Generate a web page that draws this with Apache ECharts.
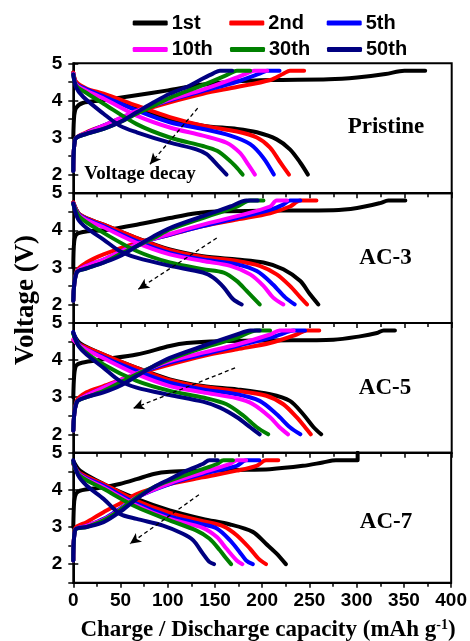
<!DOCTYPE html>
<html><head><meta charset="utf-8">
<script src="https://cdn.jsdelivr.net/npm/echarts@6/dist/echarts.min.js"></script>
<style>html,body{margin:0;padding:0;background:#fff}#c{width:470px;height:641px}</style>
</head><body><div id="c"></div>
<script>
const cycles = ['1st','2nd','5th','10th','30th','50th'];
const colors = ['#000000','#ff0000','#0000ff','#ff00ff','#008000','#000080'];
const panels = ['Pristine','AC-3','AC-5','AC-7'];
const yTickLabels = [2,3,4,5];
const xMin = 0, xMax = 400, xStep = 50;
const yMin = 1.5, yMax = 5, yStep = 0.5;

// Pristine: charge / discharge curves, cycles 1st,2nd,5th,10th,30th,50th  [capacity, voltage]
const pristineCharge = [
 [[0,3.0],[1,3.6],[3,3.8],[10,3.93],[30,4.0],[65,4.13],[100,4.27],[135,4.42],[170,4.51],[210,4.55],[270,4.57],[300,4.62],[330,4.71],[350,4.8],[372,4.8]],
 [[0,2.1],[2,2.95],[14,3.14],[32,3.32],[49,3.5],[67,3.68],[102,3.95],[137,4.18],[173,4.36],[208,4.55],[222,4.72],[229,4.8],[244,4.8]],
 [[0,2.1],[2,2.95],[14,3.12],[32,3.32],[67,3.7],[102,4.0],[137,4.25],[173,4.5],[197,4.72],[205,4.8],[218,4.8]],
 [[0,2.1],[2,2.95],[14,3.12],[32,3.32],[67,3.72],[102,4.02],[137,4.29],[166,4.55],[183,4.72],[191,4.8],[205,4.8]],
 [[0,2.1],[2,2.95],[14,3.1],[32,3.23],[49,3.41],[67,3.64],[85,3.86],[102,4.07],[137,4.41],[162,4.68],[173,4.8],[187,4.8]],
 [[0,2.1],[2,2.95],[14,3.1],[32,3.23],[49,3.41],[67,3.68],[85,3.95],[102,4.18],[120,4.36],[137,4.59],[148,4.73],[155,4.8],[168,4.8]]
];
const pristineDischarge = [
 [[0,4.75],[3.5,4.45],[14,4.29],[32,4.14],[67,3.82],[102,3.5],[137,3.32],[173,3.23],[194,3.14],[215,2.95],[229,2.68],[240,2.32],[248,2.0]],
 [[0,4.75],[3,4.5],[14,4.32],[32,4.18],[67,3.86],[102,3.55],[137,3.32],[173,3.16],[194,3.0],[208,2.73],[218,2.36],[228,2.0]],
 [[0,4.72],[3,4.45],[14,4.3],[32,4.11],[67,3.73],[102,3.41],[137,3.23],[166,3.05],[187,2.82],[201,2.45],[212,2.0]],
 [[0,4.72],[3,4.43],[14,4.26],[32,4.05],[67,3.59],[102,3.27],[137,3.05],[162,2.86],[176,2.59],[185,2.27],[192,2.0]],
 [[0,4.7],[3,4.4],[14,4.2],[32,3.91],[67,3.36],[102,3.0],[137,2.77],[152,2.64],[166,2.36],[173,2.18],[179,2.0]],
 [[0,4.7],[3,4.35],[10.6,4.09],[32,3.64],[49,3.32],[67,3.14],[102,2.86],[130,2.68],[141,2.55],[152,2.27],[162,2.0]]
];
// AC-3
const ac3Charge = [
 [[0,3.0],[1,3.7],[4,3.9],[15,3.97],[32,4.0],[67,4.15],[102,4.33],[130,4.46],[155,4.51],[208,4.53],[275,4.54],[300,4.6],[324,4.73],[333,4.8],[351,4.8]],
 [[0,2.1],[3.5,2.9],[14,3.13],[32,3.35],[67,3.66],[102,3.88],[137,4.11],[173,4.29],[208,4.46],[229,4.64],[240,4.8],[257,4.8]],
 [[0,2.1],[3.5,2.86],[14,3.04],[32,3.21],[67,3.62],[102,3.88],[137,4.11],[173,4.33],[208,4.55],[222,4.69],[229,4.8],[240,4.8]],
 [[0,2.1],[3.5,2.86],[14,3.04],[32,3.21],[67,3.62],[102,3.9],[137,4.15],[173,4.38],[208,4.64],[215,4.8],[226,4.8]],
 [[0,2.1],[3.5,2.86],[14,2.97],[32,3.13],[49,3.35],[67,3.57],[85,3.79],[102,4.02],[137,4.33],[173,4.64],[187,4.8],[201,4.8]],
 [[0,2.1],[3.5,2.86],[14,2.97],[32,3.13],[49,3.3],[67,3.57],[85,3.84],[102,4.06],[137,4.38],[166,4.64],[183,4.8],[195,4.8]]
];
const ac3Discharge = [
 [[0,4.75],[7,4.42],[32,4.15],[67,3.79],[102,3.48],[137,3.3],[173,3.21],[201,3.13],[222,2.95],[240,2.63],[250,2.28],[259,2.0]],
 [[0,4.75],[7,4.42],[32,4.15],[67,3.79],[102,3.46],[137,3.28],[173,3.17],[197,3.04],[215,2.81],[229,2.5],[240,2.19],[247,2.0]],
 [[0,4.72],[7,4.4],[32,4.11],[67,3.71],[102,3.39],[137,3.21],[173,3.08],[194,2.9],[211,2.54],[224,2.19],[234,2.0]],
 [[0,4.72],[7,4.38],[32,4.08],[67,3.66],[102,3.35],[137,3.17],[166,3.04],[187,2.81],[201,2.5],[211,2.19],[222,2.0]],
 [[0,4.7],[7,4.35],[32,3.93],[67,3.44],[102,3.13],[137,2.95],[159,2.86],[173,2.63],[183,2.37],[197,2.0]],
 [[0,4.72],[5,4.3],[14,4.06],[32,3.75],[49,3.44],[67,3.26],[102,3.04],[137,2.86],[148,2.72],[159,2.46],[169,2.14],[178,2.0]]
];
// AC-5
const ac5Charge = [
 [[0,3.0],[1,3.6],[3,3.85],[9,3.93],[32,4.02],[67,4.15],[102,4.38],[120,4.46],[155,4.51],[208,4.53],[275,4.55],[303,4.64],[321,4.73],[328,4.8],[340,4.8]],
 [[0,2.1],[3.5,2.9],[14,3.13],[32,3.3],[67,3.62],[102,3.88],[137,4.11],[173,4.29],[208,4.46],[236,4.69],[247,4.8],[260,4.8]],
 [[0,2.1],[3.5,2.86],[14,3.05],[32,3.26],[67,3.62],[102,3.93],[137,4.15],[173,4.38],[208,4.6],[229,4.78],[233,4.8],[245,4.8]],
 [[0,2.1],[3.5,2.86],[14,3.05],[32,3.26],[67,3.64],[102,3.97],[137,4.2],[173,4.42],[208,4.69],[218,4.8],[233,4.8]],
 [[0,2.1],[3.5,2.86],[14,3.0],[32,3.17],[67,3.62],[102,4.02],[137,4.33],[173,4.6],[194,4.8],[208,4.8]],
 [[0,2.1],[3.5,2.86],[14,3.0],[32,3.13],[49,3.3],[67,3.57],[85,3.84],[102,4.06],[137,4.38],[173,4.69],[187,4.8],[197,4.8]]
];
const ac5Discharge = [
 [[0,4.72],[7,4.46],[32,4.15],[67,3.79],[102,3.48],[137,3.3],[173,3.21],[208,3.08],[229,2.9],[243,2.54],[254,2.19],[262,2.0]],
 [[0,4.55],[7,4.42],[32,4.15],[67,3.79],[102,3.46],[137,3.28],[173,3.17],[204,3.04],[222,2.81],[236,2.46],[245,2.19],[251,2.0]],
 [[0,4.75],[7,4.4],[32,4.08],[67,3.71],[102,3.39],[137,3.21],[173,3.08],[197,2.9],[215,2.54],[229,2.19],[240,2.0]],
 [[0,4.55],[7,4.38],[32,4.05],[67,3.62],[102,3.3],[137,3.13],[173,2.97],[190,2.81],[208,2.46],[218,2.19],[227,2.0]],
 [[0,4.7],[7,4.35],[32,3.88],[67,3.44],[102,3.17],[137,2.99],[162,2.81],[180,2.5],[194,2.19],[206,2.0]],
 [[0,4.75],[5,4.4],[14,4.15],[32,3.79],[49,3.44],[67,3.26],[102,3.06],[137,2.88],[155,2.72],[173,2.46],[187,2.19],[197,2.0]]
];
// AC-7
const ac7Charge = [
 [[0,3.0],[1,3.7],[3,3.9],[7,3.98],[32,4.07],[49,4.16],[67,4.29],[85,4.43],[102,4.49],[137,4.52],[173,4.54],[208,4.56],[243,4.65],[264,4.74],[278,4.8],[301,4.8],[301,5.0]],
 [[0,2.1],[2,2.96],[14,3.13],[32,3.4],[49,3.63],[67,3.89],[102,4.16],[137,4.34],[173,4.52],[194,4.65],[204,4.8],[217,4.8]],
 [[0,2.1],[2,2.92],[14,3.03],[32,3.22],[49,3.49],[67,3.8],[102,4.16],[137,4.43],[173,4.65],[183,4.8],[197,4.8]],
 [[0,2.1],[2,2.92],[14,3.03],[32,3.2],[49,3.47],[67,3.8],[102,4.18],[137,4.47],[166,4.7],[173,4.8],[183,4.8]],
 [[0,2.1],[2,2.92],[14,3.0],[32,3.18],[49,3.45],[67,3.8],[85,4.07],[102,4.25],[137,4.56],[152,4.7],[159,4.8],[169,4.8]],
 [[0,2.1],[2,2.92],[14,3.0],[32,3.13],[49,3.4],[67,3.76],[85,4.07],[102,4.29],[120,4.52],[137,4.7],[144,4.8],[153,4.8]]
];
const ac7Discharge = [
 [[0,4.78],[7,4.52],[32,4.16],[67,3.76],[102,3.45],[137,3.22],[166,3.07],[190,2.87],[204,2.55],[215,2.29],[225,2.0]],
 [[0,4.7],[7,4.45],[32,4.16],[67,3.71],[102,3.38],[137,3.16],[159,3.02],[173,2.78],[187,2.42],[196,2.15],[204,2.0]],
 [[0,4.72],[7,4.42],[32,4.11],[67,3.63],[102,3.29],[137,3.07],[152,2.96],[166,2.64],[176,2.33],[183,2.1],[190,2.0]],
 [[0,4.7],[7,4.4],[32,4.07],[67,3.58],[102,3.22],[137,2.98],[152,2.73],[162,2.42],[173,2.1],[179,2.0]],
 [[0,4.72],[7,4.38],[32,4.03],[67,3.54],[102,3.18],[130,2.91],[144,2.69],[155,2.38],[162,2.15],[167,2.0]],
 [[0,4.8],[5,4.4],[14,4.12],[32,3.76],[49,3.36],[67,3.22],[95,3.04],[116,2.82],[127,2.64],[137,2.29],[144,2.06],[149,2.0]]
];
// "Voltage decay" dashed arrows [start, end] in data units
const decayArrows = [
 [[131.5,3.79],[81,2.28]],
 [[151.6,3.79],[68.7,2.41]],
 [[171,3.79],[63.4,2.70]],
 [[133,3.87],[60,2.55]]
];

const chargeSets = [pristineCharge, ac3Charge, ac5Charge, ac7Charge];
const dischargeSets = [pristineDischarge, ac3Discharge, ac5Discharge, ac7Discharge];

const SANS = 'Liberation Sans', SERIF = 'Liberation Serif';
const L = 73.3, W = 378.4, T0 = 63.3, H = 129.85;

const grids = [], xAxes = [], yAxes = [], yAxes2 = [], series = [];
panels.forEach((p, i) => {
  grids.push({left: L, top: T0 + i * H, width: W, height: H, show: true,
    borderColor: '#000', borderWidth: 2, backgroundColor: 'transparent'});
  xAxes.push({gridIndex: i, type: 'value', min: xMin, max: xMax, interval: xStep,
    axisLine: {show: true, onZero: false, lineStyle: {color: '#000', width: 2}},
    axisTick: {show: true, inside: false, length: 5, lineStyle: {color: '#000', width: 1.5}},
    minorTick: {show: true, splitNumber: 2, length: 4, lineStyle: {color: '#000', width: 1.5}},
    axisLabel: {show: i === panels.length - 1, margin: 9, color: '#000', fontFamily: SANS, fontWeight: 'bold', fontSize: 19},
    splitLine: {show: false}, minorSplitLine: {show: false}});
  yAxes.push({gridIndex: i, type: 'value', min: yMin, max: yMax, interval: yStep, position: 'left',
    axisLine: {show: true, onZero: false, lineStyle: {color: '#000', width: 2}},
    axisTick: {show: true, inside: false, length: 5, lineStyle: {color: '#000', width: 1.5}},
    axisLabel: {margin: 11, color: '#000', fontFamily: SANS, fontWeight: 'bold', fontSize: 19,
      formatter: v => yTickLabels.includes(v) ? String(v) : ''},
    splitLine: {show: false}});
  yAxes2.push({gridIndex: i, type: 'value', min: yMin, max: yMax, position: 'left',
    axisLine: {show: false},
    axisTick: {show: true, inside: true, length: 5, customValues: yTickLabels, lineStyle: {color: '#000', width: 1.5}},
    axisLabel: {show: false}, splitLine: {show: false}});
  cycles.forEach((c, k) => {
    const base = {type: 'line', name: c, xAxisIndex: i, yAxisIndex: i, showSymbol: false, symbol: 'none',
      smooth: 0.3, lineStyle: {width: 4, color: colors[k], cap: 'round', join: 'round'},
      itemStyle: {color: colors[k]}, animation: false, silent: true};
    series.push(Object.assign({}, base, {data: chargeSets[i][k]}));
    const dis = Object.assign({}, base, {data: dischargeSets[i][k]});
    if (k === cycles.length - 1) {
      dis.markLine = {silent: true, symbol: ['none', 'arrow'], symbolSize: [8, 11], animation: false,
        lineStyle: {type: [4, 3], color: '#000', width: 1.3}, itemStyle: {color: '#000'},
        label: {show: false}, emphasis: {disabled: true},
        data: [[{coord: decayArrows[i][0]}, {coord: decayArrows[i][1]}]]};
    }
    series.push(dis);
  });
});

const legendPos = [[132.7, 13], [229.3, 13], [326.7, 13], [132.7, 39.5], [230, 39.5], [327, 39.5]];
const legends = cycles.map((c, k) => ({
  data: [{name: c, icon: 'roundRect'}], left: legendPos[k][0], top: legendPos[k][1], padding: 0,
  itemWidth: 35, itemHeight: 5, itemGap: 0, selectedMode: false,
  textStyle: {color: '#000', fontFamily: SANS, fontWeight: 'bold', fontSize: 20, padding: [0, 0, 0, -1]}
}));

const labelPos = [[386, 127], [385.5, 258], [385, 388], [386, 522]];
const graphics = panels.map((p, i) => ({type: 'text', x: labelPos[i][0], y: labelPos[i][1],
  style: {text: p, fill: '#000', fontFamily: SERIF, fontWeight: 'bold', fontSize: 23, align: 'center', verticalAlign: 'middle'}}));
graphics.push({type: 'text', x: 140, y: 174, style: {text: 'Voltage decay', fill: '#000', fontFamily: SERIF,
  fontWeight: 'bold', fontSize: 19, align: 'center', verticalAlign: 'middle'}});
graphics.push({type: 'text', x: 26, y: 300, rotation: Math.PI / 2, style: {text: 'Voltage (V)', fill: '#000',
  fontFamily: SERIF, fontWeight: 'bold', fontSize: 27, align: 'center', verticalAlign: 'middle'}});
graphics.push({type: 'text', x: 268, y: 630, style: {text: 'Charge / Discharge capacity (mAh g{sup|-1})', fill: '#000',
  fontFamily: SERIF, fontWeight: 'bold', fontSize: 23, align: 'center', verticalAlign: 'middle',
  rich: {sup: {fontFamily: SERIF, fontWeight: 'bold', fontSize: 14, verticalAlign: 'top', fill: '#000'}}}});

const chart = echarts.init(document.getElementById('c'), null, {renderer: 'canvas'});
chart.setOption({
  animation: false,
  backgroundColor: '#fff',
  legend: legends,
  grid: grids,
  xAxis: xAxes,
  yAxis: yAxes.concat(yAxes2),
  series: series,
  graphic: graphics
});
</script>
</body></html>
